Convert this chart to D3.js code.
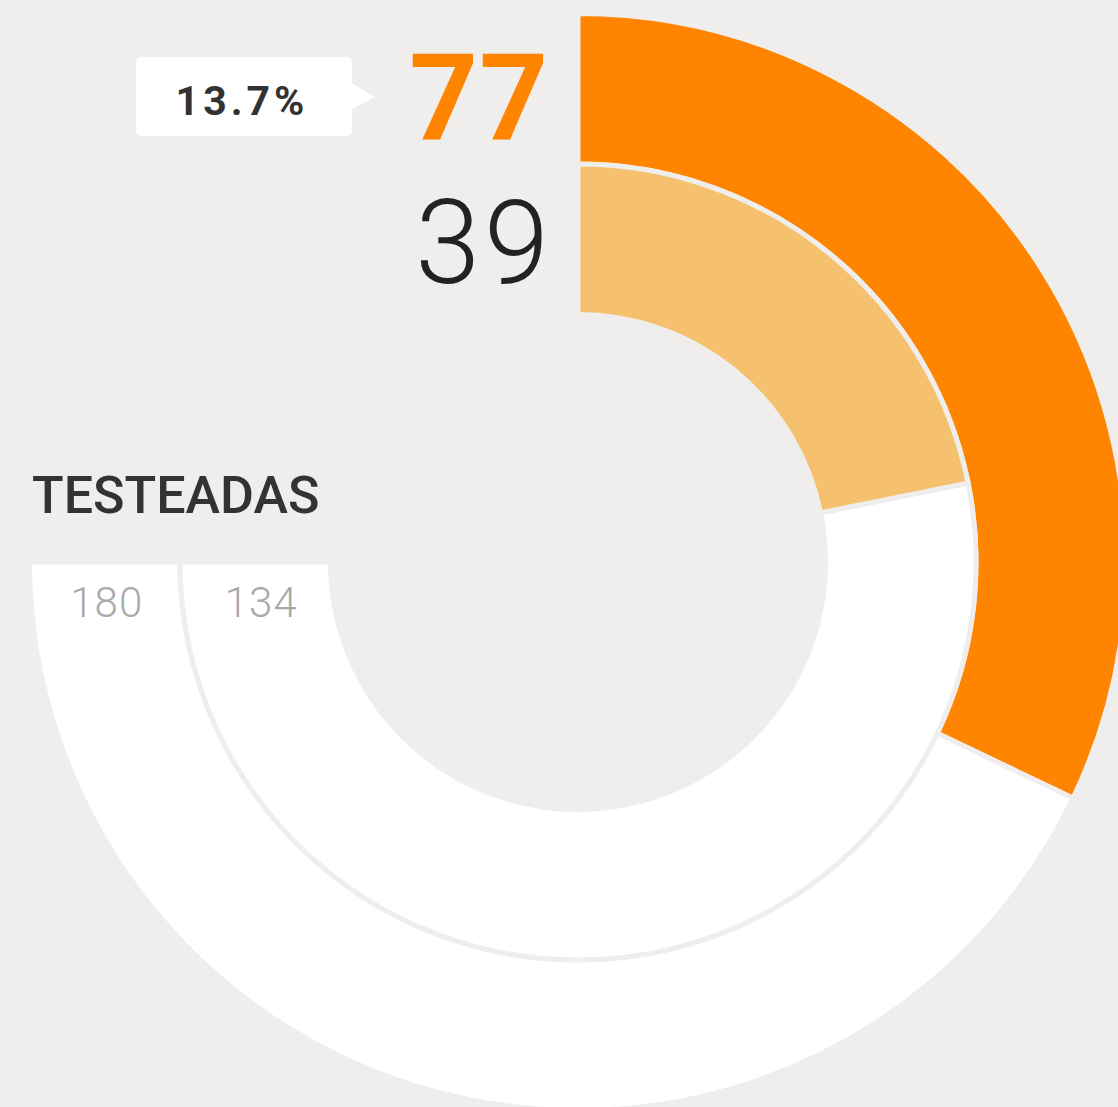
<!DOCTYPE html>
<html>
<head>
<meta charset="utf-8">
<script src="https://cdn.jsdelivr.net/npm/d3@7"></script>
<style>
  html, body { margin: 0; padding: 0; background: #efeeec; overflow: hidden; }
  #chart { width: 1118px; height: 1107px; }
  text { font-family: Roboto, sans-serif; }
</style>
</head>
<body>
<div id="chart"></div>
<script>
// ring data (outer ring first)
const rings = ['outer', 'inner'];
const totals = [180, 134];
const positives = [77, 39];
const title = 'TESTEADAS';
const percentLabel = '13.7%';

function generateChart() {
    const width = 1118;
    const height = 1107;
    const cx = 578;
    const cy = 562;
    const bg = '#efeeec';

    let svg = d3.select('#chart')
                    .append('svg')
                        .attr('width', width)
                        .attr('height', height);

    svg.append('rect')
        .attr('width', width)
        .attr('height', height)
        .attr('fill', bg);

    // radial bands: inner ring sits closest to the centre
    const rScale = d3.scaleBand()
                        .domain(rings.slice().reverse())
                        .range([247.5, 548.5]);

    let g = svg.append('g')
                .attr('transform', `translate(${cx}, ${cy})`);

    const arc = d3.arc();
    const fills = ['#ff8500', '#f6c16e'];
    const labelShift = [1, 5];

    rings.forEach((ring, i) => {
        // each ring runs three quarters of a turn, full = its own total
        const angle = d3.scaleLinear()
                            .domain([0, totals[i]])
                            .range([0, 1.5 * Math.PI]);
        const r0 = rScale(ring);
        const r1 = r0 + rScale.bandwidth();
        const parts = [
            { start: 0, end: positives[i], fill: fills[i] },
            { start: positives[i], end: totals[i], fill: '#ffffff' }
        ];
        g.selectAll(`path.${ring}`)
            .data(parts)
            .enter()
                .append('path')
                    .attr('class', ring)
                    .attr('d', (d) => arc({
                        innerRadius: r0,
                        outerRadius: r1,
                        startAngle: angle(d.start),
                        endAngle: angle(d.end)
                    }))
                    .attr('fill', (d) => d.fill)
                    .attr('stroke', bg)
                    .attr('stroke-width', 5);

        // total label at the end of each ring
        svg.append('text')
            .attr('x', cx - (r0 + r1) / 2 + labelShift[i] + 1)
            .attr('y', 617)
            .attr('text-anchor', 'middle')
            .attr('font-size', 42)
            .attr('font-weight', 300)
            .attr('fill', '#a9a9ab')
            .style('letter-spacing', '1px')
            .text(totals[i]);
    });

    // big values
    svg.append('text')
        .attr('x', cx - 29)
        .attr('y', 140)
        .attr('text-anchor', 'end')
        .attr('font-size', 120)
        .attr('font-weight', 700)
        .attr('fill', '#ff8500')
        .style('letter-spacing', '1px')
        .text(positives[0]);

    svg.append('text')
        .attr('x', cx - 25)
        .attr('y', 283)
        .attr('text-anchor', 'end')
        .attr('font-size', 117)
        .attr('font-weight', 300)
        .attr('fill', '#222222')
        .style('letter-spacing', '4px')
        .text(positives[1]);

    // tooltip box with pointer
    svg.append('rect')
        .attr('x', 136)
        .attr('y', 57)
        .attr('width', 216)
        .attr('height', 79)
        .attr('rx', 5)
        .attr('fill', '#ffffff');

    svg.append('path')
        .attr('d', 'M351,83 L375,97 L351,110 Z')
        .attr('fill', '#ffffff');

    svg.append('text')
        .attr('x', 242)
        .attr('y', 115)
        .attr('text-anchor', 'middle')
        .attr('font-size', 41)
        .attr('font-weight', 700)
        .attr('fill', '#333333')
        .style('letter-spacing', '4px')
        .text(percentLabel);

    // title
    svg.append('text')
        .attr('x', 32)
        .attr('y', 513)
        .attr('font-size', 52)
        .attr('font-weight', 500)
        .attr('fill', '#333333')
        .text(title);
}

generateChart();
</script>
</body>
</html>
